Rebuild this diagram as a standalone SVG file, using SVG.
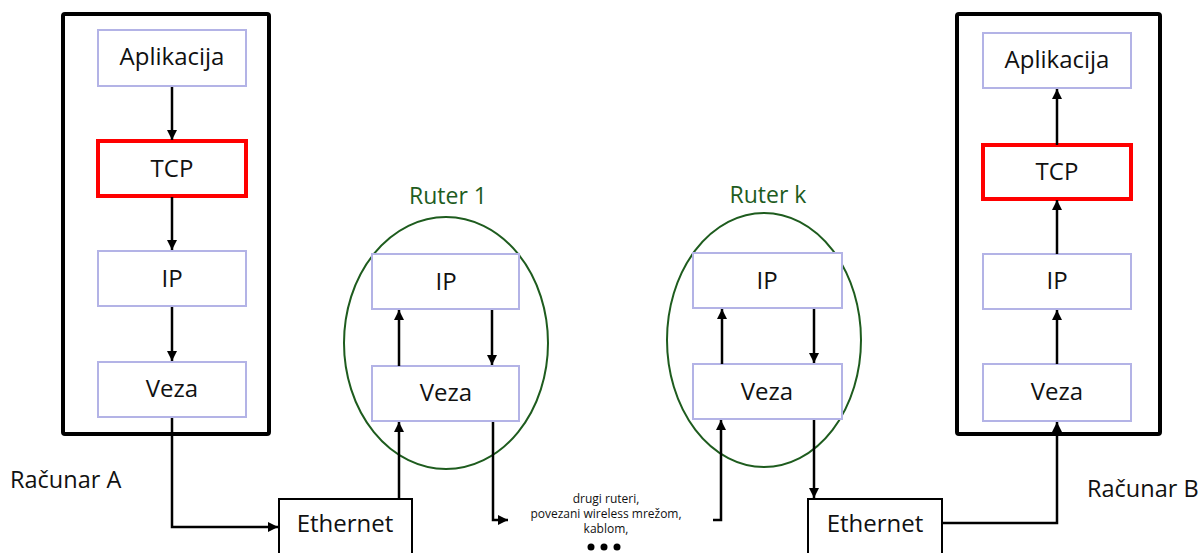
<svg xmlns="http://www.w3.org/2000/svg" width="1199" height="553" viewBox="0 0 1199 553">
  <defs>
    <marker id="arrow" markerUnits="userSpaceOnUse" markerWidth="11" markerHeight="11" refX="10" refY="5" orient="auto">
      <path d="M0,0 L10,5 L0,10 Z" fill="#000"/>
    </marker>
    <style>
      text { font-family: "Open Sans", "Liberation Sans", sans-serif; fill: #111; }
      .lbl { font-size: 24px; text-anchor: middle; }
      .host { fill: #fff; stroke: #000; stroke-width: 4; }
      .layer { fill: #fff; stroke: #b3b3e6; stroke-width: 2; }
      .tcp { fill: #fff; stroke: #ff0000; stroke-width: 4; }
      .router { fill: none; stroke: #1e5c1e; stroke-width: 2; }
      .rname { font-size: 23px; text-anchor: middle; fill: #1e5c1e; }
      .eth { fill: #fff; stroke: #000; stroke-width: 2; }
      .conn { fill: none; stroke: #000; stroke-width: 2.5; }
      .note { font-size: 12px; text-anchor: middle; }
    </style>
  </defs>

  <rect width="1199" height="553" fill="#fff"/>

  <!-- Host A -->
  <g id="racunar-a">
    <rect class="host" x="63" y="14" width="206" height="420" rx="2"/>
    <text x="10" y="488" style="font-size:23.5px">Računar A</text>
  </g>
  <g id="a-aplikacija">
    <rect class="layer" x="98" y="30" width="148" height="56"/>
    <text class="lbl" x="172" y="65">Aplikacija</text>
  </g>
  <g id="a-tcp">
    <rect class="tcp" x="98" y="141" width="148" height="55"/>
    <text class="lbl" x="172" y="177">TCP</text>
  </g>
  <g id="a-ip">
    <rect class="layer" x="98" y="251" width="148" height="55"/>
    <text class="lbl" x="172" y="287">IP</text>
  </g>
  <g id="a-veza">
    <rect class="layer" x="98" y="362" width="148" height="55"/>
    <text class="lbl" x="172" y="397">Veza</text>
  </g>

  <!-- Router 1 -->
  <g id="ruter-1">
    <ellipse class="router" cx="446" cy="343" rx="102" ry="126"/>
    <text class="rname" x="448" y="204">Ruter 1</text>
  </g>
  <g id="r1-ip">
    <rect class="layer" x="372" y="254" width="147" height="55"/>
    <text class="lbl" x="446" y="290">IP</text>
  </g>
  <g id="r1-veza">
    <rect class="layer" x="372" y="366" width="147" height="55"/>
    <text class="lbl" x="446" y="401">Veza</text>
  </g>

  <!-- Router k -->
  <g id="ruter-k">
    <ellipse class="router" cx="764" cy="340" rx="97" ry="127"/>
    <text class="rname" x="768" y="203">Ruter k</text>
  </g>
  <g id="rk-ip">
    <rect class="layer" x="693" y="253" width="149" height="55"/>
    <text class="lbl" x="767" y="289">IP</text>
  </g>
  <g id="rk-veza">
    <rect class="layer" x="693" y="364" width="149" height="55"/>
    <text class="lbl" x="767" y="400">Veza</text>
  </g>

  <!-- Host B -->
  <g id="racunar-b">
    <rect class="host" x="957" y="14" width="203" height="420" rx="2"/>
    <text x="1087" y="497" style="font-size:23.5px">Računar B</text>
  </g>
  <g id="b-aplikacija">
    <rect class="layer" x="983" y="33" width="148" height="55"/>
    <text class="lbl" x="1057" y="68">Aplikacija</text>
  </g>
  <g id="b-tcp">
    <rect class="tcp" x="983" y="145" width="148" height="54"/>
    <text class="lbl" x="1057" y="180">TCP</text>
  </g>
  <g id="b-ip">
    <rect class="layer" x="983" y="254" width="148" height="55"/>
    <text class="lbl" x="1057" y="289">IP</text>
  </g>
  <g id="b-veza">
    <rect class="layer" x="983" y="364" width="148" height="57"/>
    <text class="lbl" x="1057" y="400">Veza</text>
  </g>

  <!-- Ethernet links -->
  <g id="ethernet-1">
    <rect class="eth" x="279" y="499" width="133" height="62"/>
    <text class="lbl" x="345" y="532">Ethernet</text>
  </g>
  <g id="ethernet-2">
    <rect class="eth" x="808" y="499" width="134" height="62"/>
    <text class="lbl" x="875" y="532">Ethernet</text>
  </g>

  <!-- Other networks in between -->
  <g id="ostale-mreze">
    <text class="note" x="606" y="503">drugi ruteri,</text>
    <text class="note" x="606" y="518">povezani wireless mrežom,</text>
    <text class="note" x="606" y="533">kablom,</text>
    <circle cx="591" cy="547" r="3.5"/>
    <circle cx="604" cy="547" r="3.5"/>
    <circle cx="617" cy="547" r="3.5"/>
  </g>

  <!-- Connectors -->
  <g id="connectors">
    <path class="conn" d="M172,87 V140" marker-end="url(#arrow)"/>
    <path class="conn" d="M172,197 V250" marker-end="url(#arrow)"/>
    <path class="conn" d="M172,307 V361" marker-end="url(#arrow)"/>
    <path class="conn" d="M172,418 V527 H278" marker-end="url(#arrow)"/>
    <path class="conn" d="M399,499 V422" marker-end="url(#arrow)"/>
    <path class="conn" d="M399,366 V310" marker-end="url(#arrow)"/>
    <path class="conn" d="M492,310 V365" marker-end="url(#arrow)"/>
    <path class="conn" d="M493,422 V520 H508" marker-end="url(#arrow)"/>
    <path class="conn" d="M713,520 H721 V420" marker-end="url(#arrow)"/>
    <path class="conn" d="M722,364 V309" marker-end="url(#arrow)"/>
    <path class="conn" d="M814,309 V363" marker-end="url(#arrow)"/>
    <path class="conn" d="M814,420 V498" marker-end="url(#arrow)"/>
    <path class="conn" d="M942,523 H1057 V422" marker-end="url(#arrow)"/>
    <path class="conn" d="M1057,364 V310" marker-end="url(#arrow)"/>
    <path class="conn" d="M1057,254 V200" marker-end="url(#arrow)"/>
    <path class="conn" d="M1057,145 V89" marker-end="url(#arrow)"/>
  </g>
</svg>
